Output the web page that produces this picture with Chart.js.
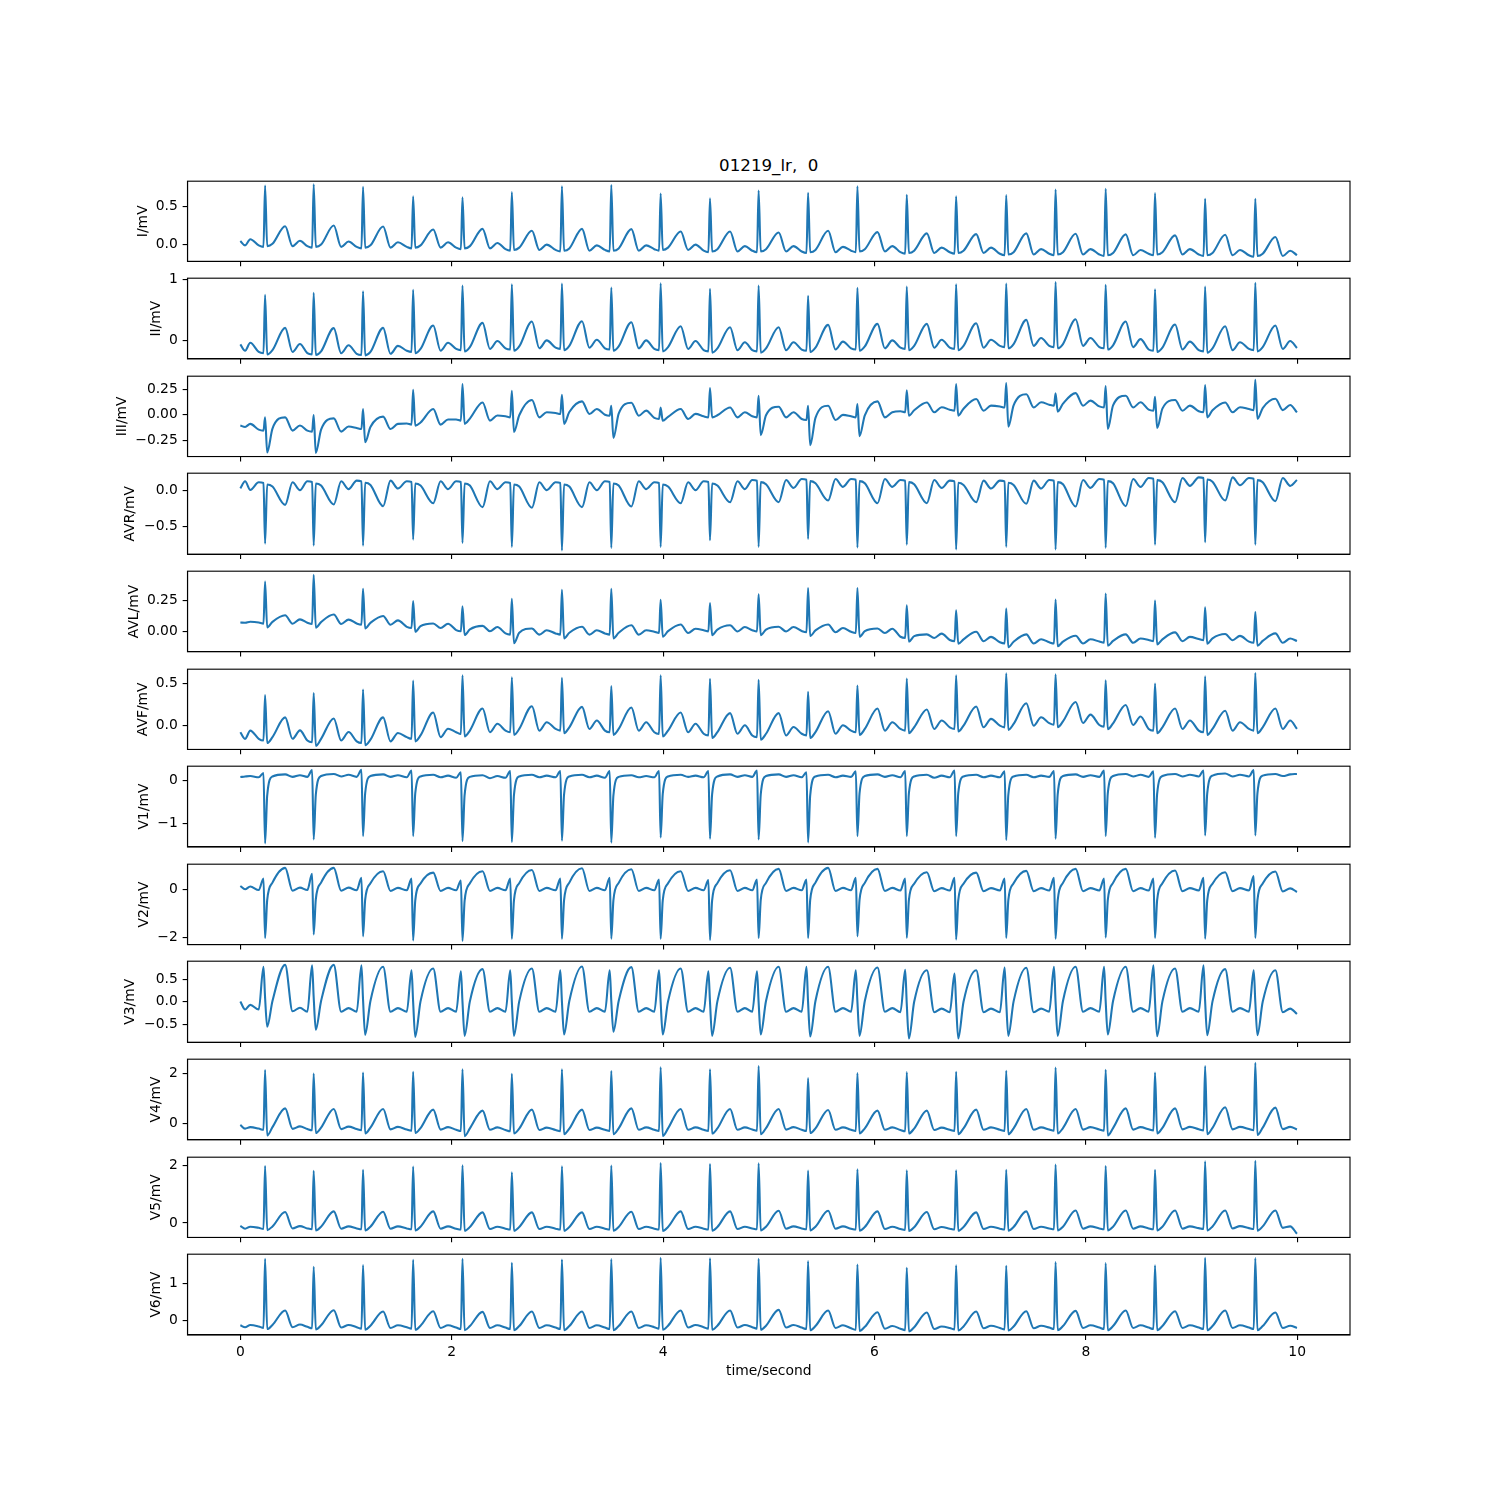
<!DOCTYPE html>
<html><head><meta charset="utf-8">
<script src="https://cdn.jsdelivr.net/npm/chart.js@4.4.1/dist/chart.umd.min.js"></script>
<style>
html,body{margin:0;padding:0;background:#fff;}
#wrap{position:relative;width:1500px;height:1500px;overflow:hidden;background:#fff;}
#wrap canvas{position:absolute;left:0;}
#title{position:absolute;left:187.5px;width:1162.5px;top:156px;text-align:center;font-family:'DejaVu Sans';font-size:16.67px;line-height:20px;white-space:pre;color:#000;}
</style></head><body><div id="wrap"><div id="title">01219_lr,  0</div></div>
<script>
// ---------------- DATA ----------------
// R-peak times of the 21 beats (seconds)
const beatTimes = [0.234,0.694,1.161,1.635,2.102,2.569,3.043,3.510,3.977,4.444,4.904,5.372,5.839,6.306,6.773,7.247,7.714,8.188,8.655,9.129,9.604];
// key points of each beat relative to its R time: PR, Q, R, S, ST, T peak, T end, P peak
const waveOffsets = [-0.06,-0.015,0,0.02,0.07,0.19,0.26,0.33];
const startTimes = [0,0.045,0.094];
const endTime = 9.998;
const leadNames = ['I','II','III','AVR','AVL','AVF','V1','V2','V3','V4','V5','V6'];

// each lead: 3 start values, then 8 values per beat, then 1 end value (mV)
const leadI = [0.047,-0.01,0.07,
-0.01,-0.03,0.776,-0.02,0.01,0.241,-0.02,0.05,
-0.02,-0.04,0.793,-0.03,0.00,0.250,-0.03,0.04,
-0.03,-0.05,0.759,-0.04,-0.01,0.237,-0.04,0.03,
-0.03,-0.05,0.634,-0.04,-0.01,0.198,-0.04,0.03,
-0.04,-0.06,0.621,-0.05,-0.02,0.207,-0.05,0.02,
-0.06,-0.08,0.690,-0.07,-0.04,0.181,-0.07,0.00,
-0.07,-0.09,0.767,-0.08,-0.05,0.207,-0.08,-0.01,
-0.07,-0.09,0.784,-0.08,-0.05,0.203,-0.08,-0.01,
-0.06,-0.08,0.672,-0.07,-0.04,0.172,-0.07,0.00,
-0.08,-0.10,0.608,-0.09,-0.06,0.172,-0.09,-0.02,
-0.08,-0.10,0.711,-0.09,-0.06,0.159,-0.09,-0.02,
-0.09,-0.11,0.681,-0.10,-0.07,0.181,-0.10,-0.03,
-0.08,-0.10,0.767,-0.09,-0.06,0.164,-0.09,-0.02,
-0.10,-0.12,0.655,-0.11,-0.08,0.147,-0.11,-0.04,
-0.10,-0.12,0.634,-0.11,-0.08,0.138,-0.11,-0.04,
-0.12,-0.14,0.651,-0.13,-0.10,0.147,-0.13,-0.06,
-0.12,-0.14,0.724,-0.13,-0.10,0.142,-0.13,-0.06,
-0.13,-0.15,0.733,-0.14,-0.11,0.134,-0.14,-0.07,
-0.12,-0.14,0.677,-0.13,-0.10,0.121,-0.13,-0.06,
-0.13,-0.15,0.603,-0.14,-0.11,0.129,-0.14,-0.07,
-0.14,-0.16,0.603,-0.15,-0.12,0.099,-0.15,-0.08,
-0.14];
const leadII = [-0.065,-0.17,-0.04,
-0.19,-0.21,0.746,-0.23,-0.16,0.205,-0.19,-0.06,
-0.21,-0.23,0.778,-0.24,-0.18,0.200,-0.21,-0.08,
-0.22,-0.24,0.805,-0.245,-0.19,0.205,-0.22,-0.09,
-0.17,-0.19,0.827,-0.21,-0.14,0.243,-0.17,-0.04,
-0.14,-0.16,0.897,-0.18,-0.11,0.286,-0.14,-0.01,
-0.13,-0.15,0.919,-0.17,-0.10,0.308,-0.13,0.00,
-0.12,-0.14,0.930,-0.16,-0.09,0.314,-0.12,0.01,
-0.13,-0.15,0.865,-0.17,-0.10,0.297,-0.13,0.00,
-0.14,-0.16,0.935,-0.18,-0.11,0.232,-0.14,-0.01,
-0.16,-0.18,0.843,-0.20,-0.13,0.216,-0.16,-0.03,
-0.16,-0.18,0.897,-0.20,-0.13,0.216,-0.16,-0.03,
-0.15,-0.17,0.730,-0.19,-0.12,0.254,-0.15,-0.02,
-0.13,-0.15,0.859,-0.17,-0.10,0.270,-0.13,0.00,
-0.12,-0.14,0.881,-0.16,-0.09,0.270,-0.12,0.01,
-0.12,-0.14,0.919,-0.16,-0.09,0.281,-0.12,0.01,
-0.09,-0.11,0.930,-0.13,-0.06,0.335,-0.09,0.04,
-0.09,-0.11,0.955,-0.13,-0.06,0.346,-0.09,0.04,
-0.11,-0.13,0.908,-0.15,-0.08,0.308,-0.11,0.02,
-0.15,-0.17,0.838,-0.19,-0.12,0.259,-0.15,-0.02,
-0.16,-0.18,0.881,-0.20,-0.13,0.232,-0.16,-0.03,
-0.14,-0.16,0.941,-0.18,-0.11,0.243,-0.14,-0.01,
-0.124];
const leadIII = [-0.107,-0.12,-0.09,
-0.146,-0.156,-0.026,-0.370,-0.136,-0.026,-0.156,-0.106,
-0.156,-0.166,-0.003,-0.374,-0.146,-0.036,-0.166,-0.116,
-0.130,-0.140,0.055,-0.270,-0.120,-0.019,-0.140,-0.090,
-0.087,-0.097,0.243,-0.107,-0.077,0.055,-0.097,-0.047,
-0.048,-0.058,0.300,-0.090,-0.038,0.120,-0.058,-0.008,
-0.016,-0.026,0.234,-0.170,-0.006,0.143,-0.026,0.024,
0.016,0.006,0.195,-0.090,0.026,0.130,0.006,0.056,
0.000,-0.010,0.088,-0.227,0.010,0.117,-0.010,0.040,
-0.032,-0.042,0.071,-0.060,-0.022,0.055,-0.042,0.008,
-0.016,-0.026,0.260,-0.026,-0.006,0.071,-0.026,0.024,
-0.016,-0.026,0.185,-0.200,-0.006,0.078,-0.026,0.024,
-0.042,-0.052,0.088,-0.300,-0.032,0.088,-0.052,-0.002,
-0.016,-0.026,0.104,-0.210,-0.006,0.130,-0.026,0.024,
0.033,0.023,0.240,-0.010,0.043,0.120,0.023,0.073,
0.049,0.039,0.300,-0.010,0.059,0.153,0.039,0.089,
0.081,0.071,0.310,-0.117,0.091,0.200,0.071,0.121,
0.098,0.088,0.210,0.030,0.108,0.211,0.088,0.138,
0.081,0.071,0.280,-0.140,0.091,0.185,0.071,0.121,
0.049,0.039,0.175,-0.130,0.059,0.143,0.039,0.089,
0.033,0.023,0.290,-0.026,0.043,0.120,0.023,0.073,
0.055,0.045,0.341,-0.040,0.065,0.156,0.045,0.095,
0.023];
const leadAVR = [0.032,0.13,0.01,
0.116,0.106,-0.741,0.086,0.056,-0.200,0.116,0.006,
0.130,0.120,-0.769,0.100,0.070,-0.194,0.130,0.020,
0.139,0.129,-0.769,0.109,0.079,-0.218,0.139,0.029,
0.130,0.120,-0.685,0.100,0.070,-0.176,0.130,0.020,
0.130,0.120,-0.731,0.100,0.070,-0.231,0.130,0.020,
0.116,0.106,-0.787,0.086,0.056,-0.241,0.116,0.006,
0.116,0.106,-0.837,0.086,0.056,-0.231,0.116,0.006,
0.130,0.120,-0.801,0.100,0.070,-0.222,0.130,0.020,
0.116,0.106,-0.787,0.086,0.056,-0.176,0.116,0.006,
0.130,0.120,-0.694,0.100,0.070,-0.162,0.130,0.020,
0.148,0.138,-0.787,0.118,0.088,-0.162,0.148,0.038,
0.162,0.152,-0.676,0.132,0.102,-0.139,0.162,0.052,
0.162,0.152,-0.796,0.132,0.102,-0.176,0.162,0.052,
0.148,0.138,-0.755,0.118,0.088,-0.176,0.148,0.038,
0.139,0.129,-0.824,0.109,0.079,-0.162,0.139,0.029,
0.139,0.129,-0.787,0.109,0.079,-0.185,0.139,0.029,
0.148,0.138,-0.824,0.118,0.088,-0.222,0.148,0.038,
0.162,0.152,-0.801,0.132,0.102,-0.218,0.162,0.052,
0.176,0.166,-0.755,0.146,0.116,-0.162,0.176,0.066,
0.185,0.175,-0.722,0.155,0.125,-0.139,0.185,0.075,
0.176,0.166,-0.755,0.146,0.116,-0.148,0.176,0.066,
0.148];
const leadAVL = [0.072,0.07,0.078,
0.072,0.062,0.402,0.032,0.077,0.130,0.062,0.097,
0.070,0.060,0.456,0.030,0.075,0.136,0.060,0.095,
0.064,0.054,0.343,0.024,0.069,0.125,0.054,0.089,
0.037,0.027,0.245,-0.003,0.042,0.064,0.027,0.062,
0.011,0.001,0.202,-0.029,0.016,0.045,0.001,0.036,
-0.016,-0.026,0.263,-0.096,-0.011,0.024,-0.026,0.009,
-0.016,-0.026,0.335,-0.056,-0.011,0.037,-0.026,0.009,
-0.016,-0.026,0.343,-0.056,-0.011,0.050,-0.026,0.009,
-0.003,-0.013,0.255,-0.043,0.002,0.056,-0.013,0.022,
0.010,0.000,0.229,-0.030,0.015,0.050,0.000,0.035,
0.010,0.000,0.300,-0.030,0.015,0.037,0.000,0.035,
0.003,-0.007,0.351,-0.037,0.008,0.056,-0.007,0.028,
-0.003,-0.013,0.351,-0.043,0.002,0.024,-0.013,0.022,
-0.043,-0.053,0.210,-0.083,-0.038,-0.024,-0.053,-0.018,
-0.069,-0.079,0.170,-0.100,-0.064,-0.003,-0.079,-0.044,
-0.088,-0.098,0.184,-0.128,-0.083,-0.024,-0.098,-0.063,
-0.088,-0.098,0.258,-0.120,-0.083,-0.035,-0.098,-0.063,
-0.082,-0.092,0.306,-0.115,-0.077,-0.024,-0.092,-0.057,
-0.069,-0.079,0.250,-0.105,-0.064,-0.008,-0.079,-0.044,
-0.061,-0.071,0.194,-0.100,-0.056,-0.021,-0.071,-0.036,
-0.082,-0.092,0.157,-0.115,-0.077,-0.016,-0.092,-0.057,
-0.077];
const leadAVF = [-0.082,-0.16,-0.063,
-0.160,-0.180,0.359,-0.210,-0.140,0.094,-0.160,-0.060,
-0.180,-0.200,0.383,-0.243,-0.160,0.082,-0.180,-0.080,
-0.190,-0.210,0.426,-0.235,-0.170,0.094,-0.190,-0.090,
-0.140,-0.160,0.531,-0.190,-0.120,0.152,-0.140,-0.040,
-0.082,-0.102,0.594,-0.132,-0.062,0.199,-0.082,0.018,
-0.063,-0.083,0.570,-0.113,-0.043,0.227,-0.063,0.037,
-0.043,-0.063,0.563,-0.093,-0.023,0.219,-0.043,0.057,
-0.063,-0.083,0.465,-0.113,-0.043,0.211,-0.063,0.037,
-0.082,-0.102,0.594,-0.132,-0.062,0.152,-0.082,0.018,
-0.100,-0.120,0.551,-0.150,-0.080,0.145,-0.100,0.000,
-0.120,-0.140,0.539,-0.170,-0.100,0.145,-0.120,-0.020,
-0.100,-0.120,0.398,-0.150,-0.080,0.168,-0.100,0.000,
-0.063,-0.083,0.473,-0.113,-0.043,0.199,-0.063,0.037,
-0.043,-0.063,0.555,-0.093,-0.023,0.188,-0.043,0.057,
-0.023,-0.043,0.594,-0.073,-0.003,0.223,-0.023,0.077,
-0.004,-0.024,0.617,-0.054,0.016,0.262,-0.004,0.096,
0.027,0.007,0.605,-0.023,0.047,0.277,0.027,0.127,
0.004,-0.016,0.535,-0.046,0.024,0.242,0.004,0.104,
-0.043,-0.063,0.496,-0.093,-0.023,0.199,-0.043,0.057,
-0.063,-0.083,0.582,-0.113,-0.043,0.172,-0.063,0.037,
-0.043,-0.063,0.621,-0.093,-0.023,0.199,-0.043,0.057,
-0.043];
const leadV1 = [0.086,0.10,0.11,
0.08,0.18,-1.475,-0.35,0.10,0.15,0.09,0.13,
0.09,0.25,-1.383,-0.33,0.11,0.16,0.10,0.14,
0.09,0.255,-1.305,-0.30,0.11,0.15,0.09,0.13,
0.08,0.24,-1.305,-0.30,0.10,0.14,0.08,0.12,
0.07,0.20,-1.422,-0.34,0.09,0.13,0.06,0.11,
0.07,0.23,-1.445,-0.34,0.10,0.14,0.08,0.12,
0.08,0.23,-1.414,-0.33,0.10,0.14,0.08,0.12,
0.07,0.23,-1.461,-0.35,0.09,0.13,0.08,0.11,
0.08,0.23,-1.336,-0.31,0.10,0.14,0.09,0.12,
0.08,0.23,-1.367,-0.32,0.10,0.15,0.09,0.13,
0.09,0.24,-1.383,-0.33,0.11,0.15,0.09,0.13,
0.08,0.20,-1.453,-0.35,0.10,0.14,0.08,0.12,
0.09,0.22,-1.305,-0.30,0.11,0.15,0.09,0.13,
0.08,0.23,-1.305,-0.30,0.10,0.14,0.07,0.12,
0.08,0.24,-1.305,-0.30,0.10,0.14,0.08,0.12,
0.08,0.22,-1.398,-0.33,0.10,0.14,0.08,0.12,
0.09,0.23,-1.367,-0.32,0.11,0.15,0.09,0.13,
0.09,0.24,-1.305,-0.30,0.11,0.16,0.10,0.14,
0.09,0.22,-1.344,-0.31,0.11,0.16,0.10,0.14,
0.10,0.24,-1.289,-0.30,0.12,0.17,0.10,0.14,
0.10,0.25,-1.289,-0.30,0.12,0.16,0.11,0.15,
0.16];
const leadV2 = [0.14,0.0,0.12,
-0.03,0.455,-2.04,-0.45,0.28,0.899,-0.06,0.07,
-0.03,0.648,-1.89,-0.42,0.28,0.899,-0.06,0.07,
-0.04,0.483,-1.97,-0.44,0.25,0.760,-0.07,0.06,
-0.04,0.455,-2.14,-0.47,0.24,0.700,-0.07,0.06,
-0.04,0.372,-2.162,-0.48,0.25,0.760,-0.07,0.06,
-0.04,0.455,-2.07,-0.46,0.26,0.810,-0.07,0.06,
-0.04,0.455,-2.07,-0.46,0.28,0.880,-0.07,0.06,
-0.04,0.483,-2.07,-0.46,0.27,0.840,-0.07,0.06,
-0.04,0.414,-2.07,-0.46,0.25,0.760,-0.07,0.06,
-0.04,0.386,-2.12,-0.47,0.26,0.800,-0.07,0.06,
-0.04,0.414,-2.04,-0.45,0.27,0.855,-0.07,0.06,
-0.04,0.414,-2.04,-0.45,0.28,0.897,-0.07,0.06,
-0.04,0.483,-1.97,-0.44,0.27,0.855,-0.07,0.06,
-0.05,0.455,-2.03,-0.45,0.23,0.717,-0.08,0.05,
-0.05,0.483,-2.10,-0.46,0.23,0.700,-0.08,0.05,
-0.05,0.455,-2.03,-0.45,0.25,0.772,-0.08,0.05,
-0.05,0.483,-2.07,-0.46,0.27,0.855,-0.08,0.05,
-0.05,0.455,-2.02,-0.45,0.27,0.855,-0.08,0.05,
-0.05,0.455,-2.03,-0.45,0.25,0.786,-0.08,0.05,
-0.05,0.483,-2.07,-0.46,0.23,0.717,-0.08,0.05,
-0.05,0.552,-2.03,-0.45,0.24,0.745,-0.09,0.04,
-0.11];
const leadV3 = [0.007,-0.17,-0.067,
-0.17,0.776,0.10,-0.552,0.02,0.818,-0.21,-0.13,
-0.22,0.810,0.10,-0.619,0.02,0.818,-0.22,-0.14,
-0.22,0.810,0.05,-0.731,0.02,0.776,-0.22,-0.14,
-0.22,0.700,0.00,-0.776,0.01,0.739,-0.22,-0.14,
-0.22,0.679,0.00,-0.754,0.01,0.724,-0.22,-0.14,
-0.22,0.700,0.00,-0.754,0.01,0.739,-0.22,-0.14,
-0.22,0.700,0.00,-0.724,0.02,0.784,-0.22,-0.14,
-0.22,0.700,0.02,-0.664,0.02,0.769,-0.22,-0.14,
-0.22,0.700,0.00,-0.724,0.01,0.739,-0.22,-0.14,
-0.22,0.679,0.00,-0.754,0.01,0.754,-0.22,-0.14,
-0.22,0.679,0.00,-0.724,0.02,0.776,-0.22,-0.14,
-0.22,0.776,0.00,-0.769,0.02,0.776,-0.22,-0.14,
-0.22,0.700,0.00,-0.754,0.02,0.761,-0.22,-0.14,
-0.23,0.709,-0.05,-0.813,0.00,0.700,-0.23,-0.15,
-0.23,0.627,-0.05,-0.813,0.00,0.700,-0.23,-0.15,
-0.23,0.761,0.00,-0.754,0.01,0.754,-0.23,-0.15,
-0.22,0.776,0.00,-0.754,0.02,0.776,-0.22,-0.14,
-0.22,0.776,0.02,-0.724,0.02,0.776,-0.22,-0.14,
-0.22,0.810,0.02,-0.761,0.01,0.739,-0.22,-0.14,
-0.22,0.810,0.02,-0.739,0.01,0.724,-0.22,-0.14,
-0.22,0.700,0.00,-0.739,0.00,0.700,-0.23,-0.15,
-0.27];
const leadV4 = [-0.07,-0.22,-0.16,
-0.22,-0.27,2.16,-0.50,-0.16,0.600,-0.23,-0.13,
-0.24,-0.29,2.01,-0.40,-0.18,0.577,-0.24,-0.14,
-0.24,-0.29,2.05,-0.42,-0.18,0.577,-0.25,-0.15,
-0.26,-0.31,2.08,-0.40,-0.20,0.550,-0.26,-0.16,
-0.27,-0.32,2.19,-0.527,-0.21,0.510,-0.27,-0.17,
-0.28,-0.33,2.00,-0.42,-0.22,0.550,-0.28,-0.18,
-0.28,-0.33,2.19,-0.45,-0.22,0.550,-0.28,-0.18,
-0.27,-0.32,2.12,-0.45,-0.21,0.600,-0.27,-0.17,
-0.27,-0.32,2.27,-0.52,-0.21,0.577,-0.27,-0.17,
-0.27,-0.32,2.19,-0.42,-0.21,0.577,-0.27,-0.17,
-0.26,-0.31,2.32,-0.45,-0.20,0.577,-0.26,-0.16,
-0.27,-0.32,1.83,-0.40,-0.21,0.537,-0.27,-0.17,
-0.27,-0.32,2.03,-0.42,-0.21,0.510,-0.27,-0.17,
-0.28,-0.33,2.07,-0.42,-0.22,0.510,-0.28,-0.18,
-0.27,-0.32,2.09,-0.45,-0.21,0.550,-0.27,-0.17,
-0.27,-0.32,2.13,-0.45,-0.21,0.577,-0.27,-0.17,
-0.26,-0.31,2.26,-0.42,-0.20,0.577,-0.26,-0.16,
-0.26,-0.31,2.17,-0.50,-0.20,0.600,-0.26,-0.16,
-0.25,-0.30,2.05,-0.42,-0.19,0.600,-0.25,-0.15,
-0.25,-0.30,2.32,-0.45,-0.19,0.644,-0.25,-0.15,
-0.24,-0.29,2.447,-0.48,-0.18,0.630,-0.24,-0.15,
-0.255];
const leadV5 = [-0.10,-0.20,-0.13,
-0.17,-0.21,1.977,-0.25,-0.12,0.377,-0.19,-0.11,
-0.19,-0.22,1.806,-0.26,-0.13,0.400,-0.20,-0.12,
-0.19,-0.22,1.840,-0.26,-0.13,0.389,-0.20,-0.12,
-0.19,-0.22,1.954,-0.26,-0.13,0.400,-0.20,-0.12,
-0.20,-0.23,2.000,-0.27,-0.14,0.366,-0.21,-0.13,
-0.20,-0.23,1.760,-0.27,-0.14,0.366,-0.21,-0.13,
-0.20,-0.23,1.966,-0.27,-0.14,0.366,-0.21,-0.13,
-0.20,-0.23,1.989,-0.27,-0.14,0.389,-0.21,-0.13,
-0.20,-0.23,2.080,-0.28,-0.14,0.400,-0.21,-0.13,
-0.20,-0.23,2.046,-0.27,-0.14,0.400,-0.21,-0.13,
-0.19,-0.22,2.069,-0.26,-0.13,0.423,-0.20,-0.12,
-0.19,-0.22,1.817,-0.26,-0.13,0.423,-0.20,-0.12,
-0.20,-0.23,1.863,-0.27,-0.14,0.400,-0.21,-0.13,
-0.21,-0.24,1.829,-0.28,-0.15,0.377,-0.22,-0.14,
-0.20,-0.23,1.829,-0.27,-0.14,0.366,-0.21,-0.13,
-0.20,-0.23,1.840,-0.27,-0.14,0.400,-0.21,-0.13,
-0.19,-0.22,2.023,-0.26,-0.13,0.434,-0.20,-0.12,
-0.19,-0.22,1.977,-0.26,-0.13,0.434,-0.20,-0.12,
-0.19,-0.22,1.840,-0.26,-0.13,0.434,-0.20,-0.12,
-0.18,-0.21,2.137,-0.26,-0.12,0.434,-0.19,-0.11,
-0.18,-0.21,2.154,-0.27,-0.12,0.434,-0.17,-0.12,
-0.376];
const leadV6 = [-0.12,-0.17,-0.11,
-0.15,-0.19,1.655,-0.22,-0.11,0.274,-0.17,-0.10,
-0.16,-0.20,1.442,-0.23,-0.12,0.283,-0.18,-0.11,
-0.17,-0.21,1.487,-0.24,-0.13,0.248,-0.19,-0.12,
-0.17,-0.21,1.628,-0.24,-0.13,0.257,-0.19,-0.12,
-0.18,-0.22,1.655,-0.25,-0.14,0.239,-0.19,-0.12,
-0.18,-0.22,1.549,-0.25,-0.14,0.248,-0.19,-0.12,
-0.18,-0.22,1.637,-0.25,-0.14,0.248,-0.19,-0.12,
-0.18,-0.22,1.646,-0.25,-0.14,0.248,-0.19,-0.12,
-0.17,-0.21,1.679,-0.24,-0.13,0.274,-0.18,-0.11,
-0.17,-0.21,1.670,-0.24,-0.13,0.274,-0.18,-0.11,
-0.17,-0.21,1.655,-0.24,-0.13,0.292,-0.18,-0.11,
-0.18,-0.22,1.593,-0.25,-0.14,0.274,-0.19,-0.12,
-0.20,-0.24,1.504,-0.27,-0.16,0.230,-0.21,-0.14,
-0.21,-0.25,1.416,-0.281,-0.17,0.221,-0.22,-0.15,
-0.19,-0.23,1.478,-0.26,-0.15,0.248,-0.20,-0.13,
-0.19,-0.23,1.469,-0.26,-0.15,0.257,-0.20,-0.13,
-0.18,-0.22,1.566,-0.25,-0.14,0.265,-0.19,-0.12,
-0.18,-0.22,1.540,-0.25,-0.14,0.274,-0.19,-0.12,
-0.18,-0.22,1.478,-0.25,-0.14,0.257,-0.19,-0.12,
-0.18,-0.22,1.679,-0.25,-0.14,0.274,-0.19,-0.12,
-0.18,-0.22,1.673,-0.25,-0.14,0.221,-0.19,-0.13,
-0.19];
const leadValues = [leadI,leadII,leadIII,leadAVR,leadAVL,leadAVF,leadV1,leadV2,leadV3,leadV4,leadV5,leadV6];

// axis ticks
const xTickValues = [0,2,4,6,8,10];
const yLimits = [[-0.22,0.833],[-0.304,1.018],[-0.41,0.377],[-0.888,0.243],[-0.164,0.486],[-0.286,0.666],
                 [-1.562,0.342],[-2.315,1.052],[-0.895,0.90],[-0.676,2.596],[-0.503,2.281],[-0.379,1.777]];
const yTickValues = [[0,0.5],[0,1],[-0.25,0,0.25],[-0.5,0],[0,0.25],[0,0.5],[-1,0],[-2,0],[-0.5,0,0.5],[0,2],[0,2],[0,1]];
const yTickLabels = [['0.0','0.5'],['0','1'],['\u22120.25','0.00','0.25'],['\u22120.5','0.0'],['0.00','0.25'],['0.0','0.5'],
                     ['\u22121','0'],['\u22122','0'],['\u22120.5','0.0','0.5'],['0','2'],['0','2'],['0','1']];

// ---------------- LAYOUT ----------------
const AX_LEFT = 187.5, AX_RIGHT = 1350, PANEL_H = 81.34;
const panelTops = [180.0,277.6,375.2,472.8,570.4,668.1,765.7,863.3,960.9,1058.5,1156.1,1253.7];
const ylabelCenterX = [143,156,122,130,134,143,144,144,130,156,156,156];
const FONT = {family:'DejaVu Sans', size:13.89};
const TICK_LEN = 4.86, LW = 1.11;

// key times shared by all leads
const keyTimes = startTimes.slice();
beatTimes.forEach(r => waveOffsets.forEach(o => keyTimes.push(Math.round((r + o) * 10000) / 10000)));
keyTimes.push(endTime);

const framePlugin = {
  id: 'frame',
  afterDraw(chart) {
    const {ctx, chartArea: a} = chart;
    ctx.save();
    ctx.strokeStyle = '#000';
    ctx.lineWidth = LW;
    ctx.strokeRect(a.left, a.top, a.right - a.left, a.bottom - a.top);
    ctx.restore();
  }
};

const wrap = document.getElementById('wrap');
leadValues.forEach((vals, i) => {
  const isLast = i === leadValues.length - 1;
  const top = panelTops[i];
  const canvasTop = Math.floor(top) - 12;
  const padTop = top - canvasTop;
  const canvasH = isLast ? 170 : 120;
  const xAxisH = canvasH - padTop - PANEL_H;
  const cv = document.createElement('canvas');
  cv.width = 1500; cv.height = canvasH;
  cv.style.top = canvasTop + 'px';
  cv.style.width = '1500px'; cv.style.height = canvasH + 'px';
  wrap.appendChild(cv);
  const pts = keyTimes.map((t, k) => ({x: t, y: vals[k]}));
  const titleCenterY = 1371 - canvasTop;
  new Chart(cv.getContext('2d'), {
    type: 'line',
    data: {datasets: [{
      data: pts, borderColor: '#1f77b4', borderWidth: 2.08, pointRadius: 0,
      fill: false, cubicInterpolationMode: 'monotone', borderJoinStyle: 'round', borderCapStyle: 'butt'
    }]},
    options: {
      responsive: false, animation: false, devicePixelRatio: 1, parsing: false,
      layout: {padding: {top: padTop, right: 1500 - AX_RIGHT, left: 0, bottom: 0}},
      plugins: {legend: {display: false}, tooltip: {enabled: false}, title: {display: false}},
      scales: {
        x: {
          type: 'linear', min: -0.5, max: 10.5,
          afterBuildTicks: s => { s.ticks = xTickValues.map(v => ({value: v})); },
          afterFit: s => { s.height = xAxisH; },
          grid: {drawOnChartArea: false, drawTicks: true, tickLength: TICK_LEN, color: '#000', lineWidth: LW},
          border: {display: true, color: '#000', width: LW},
          ticks: {display: isLast, color: '#000', font: FONT, padding: 4.5, maxRotation: 0, autoSkip: false,
                  callback: v => String(v)},
          title: isLast ? {display: true, text: 'time/second', color: '#000', font: FONT,
                           padding: {top: 0, bottom: canvasH - titleCenterY - 8.34}} : {display: false}
        },
        y: {
          type: 'linear', min: yLimits[i][0], max: yLimits[i][1],
          afterBuildTicks: s => { s.ticks = yTickValues[i].map(v => ({value: v})); },
          afterFit: s => { s.width = AX_LEFT; },
          grid: {drawOnChartArea: false, drawTicks: true, tickLength: TICK_LEN, color: '#000', lineWidth: LW},
          border: {display: true, color: '#000', width: LW},
          ticks: {color: '#000', font: FONT, padding: 4.86, autoSkip: false,
                  callback: (v, idx) => yTickLabels[i][idx]},
          title: {display: true, text: leadNames[i] + '/mV', color: '#000', font: FONT,
                  padding: {top: ylabelCenterX[i] - 8.34, bottom: 0}}
        }
      }
    },
    plugins: [framePlugin]
  });
});
</script></body></html>
